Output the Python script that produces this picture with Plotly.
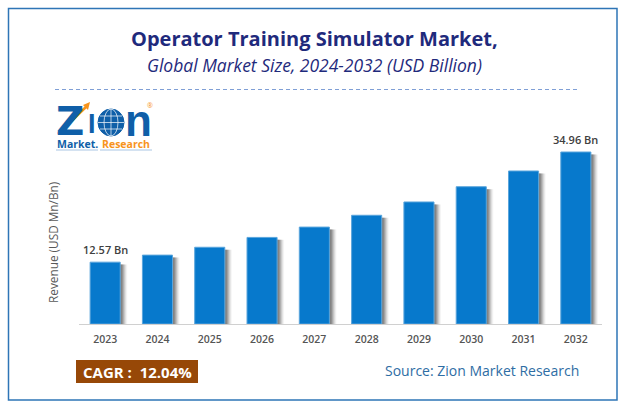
import plotly.graph_objects as go

years = ["2023", "2024", "2025", "2026", "2027", "2028", "2029", "2030", "2031", "2032"]
revenue = [12.57, 14.0, 15.6, 17.6, 19.7, 22.1, 24.8, 27.9, 31.1, 34.96]
bar_labels = {"2023": "12.57 Bn", "2032": "34.96 Bn"}

W, H = 626, 410
FONT = "Open Sans"
LOGO_BLUE = "#0f5fa8"
LOGO_ORANGE = "#f7941d"


# pixel helpers, the reference was measured in pixels
def px(x):
    return x / W


def py(y):
    return 1 - y / H


def paper_shape(**kw):
    return dict(xref="paper", yref="paper", **kw)


fig = go.Figure()

# soft shadow on the right side of the bars, starts a little under the bar top
shadow_top = [v - 0.5 for v in revenue]
for off, alpha in [(7, 0.06), (6, 0.1), (5, 0.14), (4, 0.2), (3, 0.26), (2, 0.3)]:
    fig.add_trace(go.Bar(
        x=years, y=shadow_top, width=0.575, offset=-0.2875 + off / 52.3,
        marker=dict(color=f"rgba(80,80,80,{alpha})", line_width=0),
        hoverinfo="skip", showlegend=False,
    ))

fig.add_trace(go.Bar(
    x=years, y=revenue, width=0.575, offset=-0.2875,
    marker=dict(color="#0779cc", line=dict(color="#5aa5dc", width=1)),
    showlegend=False,
))

# category axis position, a "2023" string would be read as the number 2023 here
for i, (year, value) in enumerate(zip(years, revenue)):
    if year in bar_labels:
        fig.add_annotation(
            x=i, y=value, text=bar_labels[year], showarrow=False,
            yanchor="bottom", yshift=3,
            font=dict(family=FONT, size=11, color="#404040", weight=600),
        )

fig.update_layout(
    width=W, height=H, autosize=False,
    margin=dict(l=0, r=0, t=0, b=0),
    paper_bgcolor="white", plot_bgcolor="white",
    barmode="overlay",
    xaxis=dict(
        domain=[px(79), px(602)], anchor="y", type="category",
        showgrid=False, ticks="", showline=True, linecolor="#d0d0d0", linewidth=1,
        ticklabelstandoff=5,
        tickfont=dict(family=FONT, size=10.5, color="#555555", weight=600),
    ),
    yaxis=dict(
        domain=[py(324), py(100)], range=[0, 224 / 4.92], visible=False,
    ),
    font=dict(family=FONT),
    shapes=[
        # outer frame
        paper_shape(type="rect", x0=px(8.5), x1=px(617), y0=py(400), y1=py(8.5),
                    line=dict(color="#2e75b6", width=1.5)),
        # dashed divider
        paper_shape(type="line", x0=px(55), x1=px(578), y0=py(89.5), y1=py(89.5),
                    line=dict(color="#7f9fd6", width=1, dash="4px,3px")),
        # CAGR box
        paper_shape(type="rect", x0=px(76), x1=px(198), y0=py(383), y1=py(360),
                    fillcolor="#974807", line_width=0),
        # logo globe
        paper_shape(type="circle", x0=px(98), x1=px(124), y0=py(136), y1=py(109),
                    fillcolor=LOGO_BLUE, line=dict(color=LOGO_BLUE, width=1)),
        paper_shape(type="circle", x0=px(104), x1=px(118), y0=py(136), y1=py(109),
                    line=dict(color="white", width=0.7)),
        paper_shape(type="line", x0=px(98), x1=px(124), y0=py(122.5), y1=py(122.5),
                    line=dict(color="white", width=0.7)),
        paper_shape(type="line", x0=px(100), x1=px(122), y0=py(116), y1=py(116),
                    line=dict(color="white", width=0.7)),
        paper_shape(type="line", x0=px(100), x1=px(122), y0=py(129), y1=py(129),
                    line=dict(color="white", width=0.7)),
        paper_shape(type="line", x0=px(111), x1=px(111), y0=py(109), y1=py(136),
                    line=dict(color="white", width=0.7)),
        # logo underline
        paper_shape(type="line", x0=px(56), x1=px(98), y0=py(150), y1=py(150),
                    line=dict(color="#a9c6e3", width=1)),
        paper_shape(type="line", x0=px(100), x1=px(152), y0=py(150), y1=py(150),
                    line=dict(color="#a9c6e3", width=1)),
        # logo orange arrow
        paper_shape(type="line", x0=px(58), x1=px(87), y0=py(134), y1=py(106),
                    line=dict(color=LOGO_ORANGE, width=2.5)),
        paper_shape(type="path", fillcolor=LOGO_ORANGE, line_width=0,
                    path=f"M {px(90)} {py(102)} L {px(83)} {py(105)} L {px(88)} {py(110)} Z"),
    ],
)


def note(x, y, text, size, color, bold=False, italic=False, anchor="center", angle=0, family=FONT):
    if bold:
        text = f"<b>{text}</b>"
    if italic:
        text = f"<i>{text}</i>"
    fig.add_annotation(
        xref="paper", yref="paper", x=px(x), y=py(y), text=text, showarrow=False,
        xanchor=anchor, yanchor="middle", textangle=angle,
        font=dict(family=family, size=size, color=color),
    )


note(314, 39, "Operator Training Simulator Market,", 20, "#1f2a7c", bold=True)
note(314, 65, "Global Market Size, 2024-2032 (USD Billion)", 17.5, "#1f2a7c", italic=True)
note(53, 243, "Revenue (USD Mn/Bn)", 11.8, "#595959", angle=-90)
note(137, 371.5, "CAGR :  12.04%", 15, "white", bold=True)
note(482, 370, "Source: Zion Market Research", 14, "#2e6da4")

# logo text
note(70, 121, "Z", 39, LOGO_BLUE, bold=True, family="DejaVu Sans")
note(92, 124, "I", 27, LOGO_BLUE, bold=True, family="Liberation Sans")
note(138, 120, "n", 44, LOGO_BLUE, bold=True, family="Liberation Sans")
note(150, 105, "®", 7, LOGO_ORANGE)
note(77, 144, "Market.", 10.5, LOGO_BLUE, bold=True)
note(126, 144, "Research", 10.5, LOGO_ORANGE, bold=True)

# the page's default 8px body margin would push the chart off the frame
fig.write_html("out.html", config={"displayModeBar": False},
               post_script="document.body.style.margin='0';")
